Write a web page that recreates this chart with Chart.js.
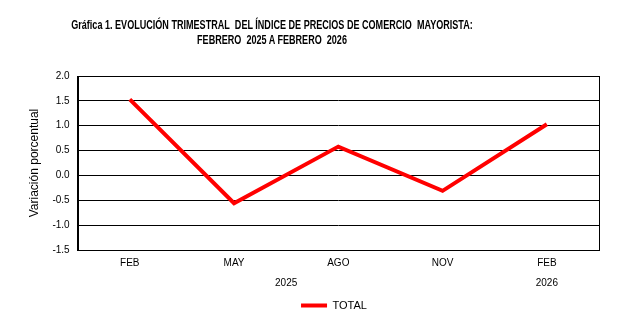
<!DOCTYPE html>
<html>
<head>
<meta charset="utf-8">
<script src="https://cdn.jsdelivr.net/npm/chart.js@4"></script>
<style>
  html, body { margin: 0; padding: 0; background: #fff; }
  #wrap { position: relative; width: 621px; height: 329px; overflow: hidden; }
  #titulo {
    position: absolute; left: -78px; top: 18px; width: 700px;
    text-align: center; font-family: "Liberation Sans", Arial, sans-serif;
    font-weight: bold; font-size: 12px; line-height: 15px; color: #000;
    white-space: nowrap;
  }
  #titulo span { display: block; transform: scaleX(0.755); transform-origin: center; }
  canvas { position: absolute; left: 0; top: 0; }
</style>
</head>
<body>
<div id="wrap">
  <canvas id="grafica" width="621" height="329"></canvas>
  <div id="titulo">
    <span>Gráfica 1. EVOLUCIÓN TRIMESTRAL&nbsp; DEL ÍNDICE DE PRECIOS DE COMERCIO&nbsp; MAYORISTA:</span>
    <span>FEBRERO&nbsp; 2025 A FEBRERO&nbsp; 2026</span>
  </div>
</div>
<script>
// trimestres y variacion porcentual
const meses = ["FEB", "MAY", "AGO", "NOV", "FEB"]
const anios = ["", "", "", "", "2025", "", "", "", "", "2026", ""]
const total = [1.53, -0.56, 0.58, -0.31, 1.03]

const yMin = -1.5
const yMax = 2.0
const yPaso = 0.5

// marco negro alrededor del area de la grafica
const marco = {
    id: "marco",
    afterDraw(chart) {
        const { ctx, chartArea } = chart
        ctx.save()
        ctx.strokeStyle = "#000"
        ctx.lineWidth = 1
        ctx.strokeRect(Math.round(chartArea.left) + 0.5, Math.round(chartArea.top) + 0.5,
            Math.round(chartArea.width), Math.round(chartArea.height))
        ctx.restore()
    }
}

// la leyenda va un poco a la derecha del centro y mas abajo
const moverLeyenda = {
    id: "moverLeyenda",
    afterLayout(chart) {
        chart.legend.left += 21
        chart.legend.right += 21
        chart.legend.top += 3
        chart.legend.bottom += 3
    }
}

const fuente = { family: "'Liberation Sans', Arial, sans-serif", size: 10 }

new Chart(document.getElementById("grafica"), {
    type: "line",
    data: {
        labels: meses,
        datasets: [{
            label: "TOTAL",
            data: total,
            borderColor: "#ff0000",
            backgroundColor: "#ff0000",
            borderWidth: 4,
            pointRadius: 0,
            tension: 0,
            xAxisID: "x"
        }]
    },
    options: {
        responsive: false,
        animation: false,
        layout: { padding: { top: 76, right: 22, left: 27, bottom: 11 } },
        plugins: {
            legend: {
                position: "bottom",
                labels: {
                    color: "#000",
                    font: { family: fuente.family, size: 11 },
                    boxWidth: 26,
                    boxHeight: 4,
                    padding: 7,
                    generateLabels: chart => chart.data.datasets.map((ds, i) => ({
                        text: ds.label,
                        fillStyle: ds.borderColor,
                        strokeStyle: ds.borderColor,
                        lineWidth: 0,
                        datasetIndex: i
                    }))
                }
            },
            title: { display: false },
            tooltip: { enabled: false }
        },
        scales: {
            x: {
                type: "category",
                offset: true,
                grid: { display: false, drawTicks: false },
                border: { display: true, color: "#000" },
                ticks: { color: "#000", font: fuente, padding: 7, maxRotation: 0 }
            },
            x2: {
                type: "category",
                position: "bottom",
                labels: anios,
                offset: false,
                weight: 1,
                grid: { display: false, drawTicks: false },
                border: { display: false },
                ticks: { color: "#000", font: fuente, padding: 1, autoSkip: false, maxRotation: 0 }
            },
            y: {
                min: yMin,
                max: yMax,
                grid: { color: "#000", lineWidth: 1, drawTicks: false },
                border: { display: true, color: "#000" },
                ticks: {
                    stepSize: yPaso,
                    color: "#000",
                    font: fuente,
                    padding: 8,
                    callback: v => v.toFixed(1)
                },
                title: {
                    display: true,
                    text: "Variación porcentual",
                    color: "#000",
                    font: { family: fuente.family, size: 12 },
                    padding: { top: 0, bottom: 3 }
                }
            }
        }
    },
    plugins: [marco, moverLeyenda]
})
</script>
</body>
</html>
